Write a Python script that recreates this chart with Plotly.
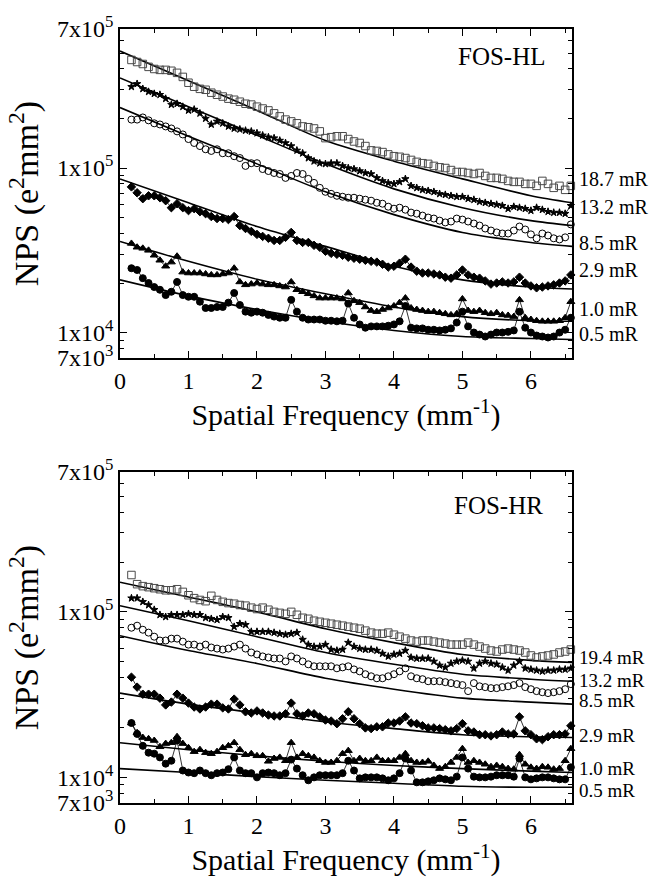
import plotly.graph_objects as go

# ---------------- data ----------------
freq = [0.167, 0.250, 0.333, 0.417, 0.500, 0.583, 0.667, 0.750, 0.833, 0.917,
        1.000, 1.083, 1.167, 1.250, 1.333, 1.417, 1.500, 1.583, 1.667, 1.750, 1.833, 1.917,
        2.000, 2.083, 2.167, 2.250, 2.333, 2.417, 2.500, 2.583, 2.667, 2.750, 2.833, 2.917,
        3.000, 3.083, 3.167, 3.250, 3.333, 3.417, 3.500, 3.583, 3.667, 3.750, 3.833, 3.917,
        4.000, 4.083, 4.167, 4.250, 4.333, 4.417, 4.500, 4.583, 4.667, 4.750, 4.833, 4.917,
        5.000, 5.083, 5.167, 5.250, 5.333, 5.417, 5.500, 5.583, 5.667, 5.750, 5.833, 5.917,
        6.000, 6.083, 6.167, 6.250, 6.333, 6.417, 6.500, 6.583]

fit_freq = [0, 1, 2, 3, 4, 5, 6, 6.6]

# FOS-HL measured NPS
hl_187 = [4.54e5, 4.41e5, 4.29e5, 4.12e5, 4.00e5, 3.95e5, 3.95e5, 3.90e5, 3.79e5, 3.58e5,
          3.30e5, 3.12e5, 3.03e5, 2.99e5, 2.87e5, 2.79e5, 2.72e5, 2.64e5, 2.60e5, 2.53e5, 2.46e5, 2.43e5,
          2.36e5, 2.30e5, 2.24e5, 2.15e5, 2.06e5, 1.97e5, 1.92e5, 1.87e5, 1.79e5, 1.77e5, 1.74e5, 1.67e5,
          1.52e5, 1.54e5, 1.56e5, 1.56e5, 1.50e5, 1.45e5, 1.42e5, 1.36e5, 1.28e5, 1.27e5, 1.25e5, 1.21e5,
          1.18e5, 1.17e5, 1.15e5, 1.12e5, 1.09e5, 1.07e5, 1.06e5, 1.03e5, 1.01e5, 1.00e5, 9.72e4, 9.46e4,
          9.46e4, 9.33e4, 9.20e4, 9.33e4, 8.95e4, 8.71e4, 8.71e4, 8.59e4, 8.35e4, 8.24e4, 8.24e4, 8.01e4,
          8.01e4, 7.79e4, 8.35e4, 8.01e4, 7.58e4, 7.79e4, 7.37e4, 7.79e4]
hl_132 = [3.12e5, 3.25e5, 3.03e5, 2.91e5, 2.83e5, 2.79e5, 2.64e5, 2.43e5, 2.46e5, 2.36e5,
          2.24e5, 2.27e5, 2.15e5, 2.00e5, 1.84e5, 1.92e5, 1.87e5, 1.79e5, 1.74e5, 1.72e5, 1.69e5, 1.67e5,
          1.63e5, 1.58e5, 1.54e5, 1.52e5, 1.47e5, 1.42e5, 1.36e5, 1.28e5, 1.23e5, 1.15e5, 1.10e5, 1.07e5,
          1.06e5, 1.07e5, 1.07e5, 1.03e5, 1.00e5, 9.86e4, 9.59e4, 9.33e4, 9.20e4, 8.71e4, 8.35e4, 8.12e4,
          8.01e4, 8.24e4, 8.59e4, 7.79e4, 7.58e4, 7.37e4, 7.27e4, 7.17e4, 6.97e4, 6.88e4, 6.78e4, 6.69e4,
          6.69e4, 6.51e4, 6.42e4, 6.24e4, 6.15e4, 6.07e4, 5.99e4, 5.90e4, 5.66e4, 5.82e4, 5.74e4, 5.66e4,
          5.51e4, 5.74e4, 5.58e4, 5.43e4, 5.36e4, 5.36e4, 5.28e4, 5.90e4]
hl_85 = [1.97e5, 1.97e5, 2.03e5, 1.95e5, 1.87e5, 1.84e5, 1.79e5, 1.74e5, 1.67e5, 1.60e5,
         1.50e5, 1.42e5, 1.36e5, 1.30e5, 1.27e5, 1.30e5, 1.23e5, 1.23e5, 1.18e5, 1.15e5, 1.03e5, 1.07e5,
         1.07e5, 9.86e4, 9.59e4, 9.33e4, 9.20e4, 8.71e4, 8.95e4, 9.33e4, 9.20e4, 8.59e4, 8.12e4, 7.58e4,
         7.17e4, 6.97e4, 6.78e4, 6.69e4, 6.60e4, 6.60e4, 6.51e4, 6.42e4, 6.33e4, 6.15e4, 6.07e4, 5.82e4,
         5.66e4, 5.74e4, 5.58e4, 5.36e4, 5.28e4, 5.14e4, 5.00e4, 4.93e4, 4.79e4, 4.67e4, 4.73e4, 4.93e4,
         4.86e4, 4.73e4, 4.60e4, 4.47e4, 4.29e4, 4.17e4, 4.06e4, 4.00e4, 4.00e4, 4.17e4, 4.41e4, 4.23e4,
         3.95e4, 3.74e4, 4.00e4, 3.89e4, 3.74e4, 3.68e4, 3.79e4, 4.54e4]
hl_29 = [7.68e4, 7.07e4, 6.51e4, 6.78e4, 6.78e4, 6.60e4, 6.33e4, 5.74e4, 6.07e4, 5.74e4,
         5.51e4, 5.66e4, 5.43e4, 5.28e4, 5.07e4, 4.93e4, 4.93e4, 4.86e4, 5.07e4, 4.47e4, 4.29e4, 4.12e4,
         3.95e4, 3.84e4, 3.74e4, 3.63e4, 3.63e4, 3.79e4, 4.06e4, 3.63e4, 3.53e4, 3.53e4, 3.39e4, 3.30e4,
         3.12e4, 3.03e4, 2.99e4, 2.95e4, 2.87e4, 2.83e4, 2.79e4, 2.75e4, 2.71e4, 2.68e4, 2.60e4, 2.50e4,
         2.53e4, 2.64e4, 2.79e4, 2.50e4, 2.36e4, 2.30e4, 2.30e4, 2.27e4, 2.24e4, 2.17e4, 2.14e4, 2.24e4,
         2.40e4, 2.24e4, 2.17e4, 2.14e4, 2.06e4, 1.97e4, 2.00e4, 2.03e4, 2.00e4, 2.03e4, 2.17e4, 2.00e4,
         1.92e4, 1.87e4, 1.89e4, 1.92e4, 1.95e4, 2.00e4, 2.06e4, 2.24e4]
hl_10 = [3.48e4, 3.30e4, 3.25e4, 3.16e4, 2.95e4, 2.75e4, 2.53e4, 2.68e4, 2.91e4, 2.33e4,
         2.30e4, 2.30e4, 2.30e4, 2.27e4, 2.24e4, 2.24e4, 2.27e4, 2.30e4, 2.46e4, 2.03e4, 1.95e4, 1.97e4,
         2.00e4, 1.97e4, 1.95e4, 1.95e4, 1.92e4, 1.89e4, 2.03e4, 1.82e4, 1.77e4, 1.72e4, 1.67e4, 1.62e4,
         1.62e4, 1.62e4, 1.62e4, 1.60e4, 1.74e4, 1.56e4, 1.52e4, 1.43e4, 1.36e4, 1.34e4, 1.38e4, 1.41e4,
         1.45e4, 1.52e4, 1.62e4, 1.41e4, 1.38e4, 1.36e4, 1.34e4, 1.34e4, 1.32e4, 1.30e4, 1.28e4, 1.30e4,
         1.60e4, 1.36e4, 1.34e4, 1.36e4, 1.32e4, 1.30e4, 1.32e4, 1.28e4, 1.27e4, 1.25e4, 1.58e4, 1.23e4,
         1.20e4, 1.18e4, 1.17e4, 1.17e4, 1.17e4, 1.18e4, 1.23e4, 1.54e4]
hl_05 = [2.46e4, 2.40e4, 2.14e4, 2.00e4, 1.89e4, 1.82e4, 1.69e4, 1.77e4, 2.03e4, 1.69e4,
         1.65e4, 1.65e4, 1.54e4, 1.41e4, 1.41e4, 1.43e4, 1.43e4, 1.52e4, 1.74e4, 1.47e4, 1.34e4, 1.32e4,
         1.34e4, 1.32e4, 1.28e4, 1.25e4, 1.23e4, 1.23e4, 1.58e4, 1.34e4, 1.23e4, 1.20e4, 1.20e4, 1.20e4,
         1.18e4, 1.18e4, 1.17e4, 1.18e4, 1.50e4, 1.23e4, 1.12e4, 1.07e4, 1.09e4, 1.09e4, 1.09e4, 1.10e4,
         1.12e4, 1.17e4, 1.45e4, 1.07e4, 1.06e4, 1.06e4, 1.04e4, 1.04e4, 1.03e4, 1.04e4, 1.06e4, 1.15e4,
         1.34e4, 1.09e4, 1.00e4, 9.72e3, 9.46e3, 9.72e3, 1.00e4, 1.00e4, 1.01e4, 1.03e4, 1.34e4, 1.07e4,
         1.00e4, 9.59e3, 9.46e3, 9.33e3, 9.46e3, 1.00e4, 1.04e4, 1.23e4]

# FOS-HL model fits
hl_fit_187 = [5.14e5, 3.39e5, 2.24e5, 1.47e5, 1.10e5, 8.59e4, 6.78e4, 6.15e4]
hl_fit_132 = [3.53e5, 2.36e5, 1.58e5, 1.06e5, 7.47e4, 5.74e4, 4.79e4, 4.47e4]
hl_fit_85 = [2.33e5, 1.56e5, 1.06e5, 7.17e4, 5.21e4, 4.06e4, 3.53e4, 3.34e4]
hl_fit_29 = [8.59e4, 6.15e4, 4.41e4, 3.34e4, 2.53e4, 2.09e4, 1.89e4, 1.84e4]
hl_fit_10 = [3.58e4, 2.71e4, 2.11e4, 1.72e4, 1.43e4, 1.25e4, 1.18e4, 1.17e4]
hl_fit_05 = [2.09e4, 1.67e4, 1.38e4, 1.17e4, 1.03e4, 9.46e3, 9.20e3, 9.07e3]

# FOS-HR measured NPS
hr_194 = [1.67e5, 1.47e5, 1.43e5, 1.41e5, 1.39e5, 1.37e5, 1.35e5, 1.35e5, 1.37e5, 1.32e5,
          1.26e5, 1.21e5, 1.18e5, 1.16e5, 1.25e5, 1.18e5, 1.15e5, 1.13e5, 1.12e5, 1.10e5, 1.09e5, 1.06e5,
          1.04e5, 1.06e5, 1.03e5, 1.00e5, 9.86e4, 9.73e4, 1.00e5, 9.60e4, 9.21e4, 9.08e4, 8.84e4, 8.71e4,
          8.59e4, 8.48e4, 8.36e4, 8.25e4, 8.13e4, 8.02e4, 7.91e4, 7.70e4, 7.49e4, 7.38e4, 7.38e4, 7.49e4,
          7.28e4, 7.08e4, 6.89e4, 6.71e4, 6.61e4, 6.71e4, 6.71e4, 6.61e4, 6.52e4, 6.43e4, 6.34e4, 6.34e4,
          6.34e4, 6.52e4, 6.34e4, 6.17e4, 6.00e4, 5.84e4, 5.76e4, 5.92e4, 6.00e4, 5.92e4, 5.84e4, 5.68e4,
          5.45e4, 5.30e4, 5.38e4, 5.45e4, 5.53e4, 5.68e4, 5.76e4, 5.92e4]
hr_132 = [1.21e5, 1.21e5, 1.15e5, 1.10e5, 1.03e5, 9.60e4, 9.33e4, 9.60e4, 9.60e4, 9.60e4,
          9.73e4, 9.60e4, 9.60e4, 9.21e4, 9.08e4, 8.96e4, 9.33e4, 9.21e4, 8.13e4, 8.48e4, 8.36e4, 7.59e4,
          7.59e4, 7.59e4, 7.59e4, 7.49e4, 7.38e4, 7.28e4, 7.38e4, 7.49e4, 6.80e4, 6.34e4, 6.17e4, 6.17e4,
          6.34e4, 5.92e4, 5.84e4, 5.92e4, 6.52e4, 6.17e4, 6.00e4, 5.92e4, 5.92e4, 5.84e4, 5.60e4, 5.38e4,
          5.53e4, 5.60e4, 5.84e4, 5.30e4, 5.23e4, 5.23e4, 5.23e4, 5.02e4, 4.75e4, 4.62e4, 4.88e4, 5.02e4,
          5.09e4, 5.02e4, 4.56e4, 4.88e4, 5.02e4, 4.88e4, 4.82e4, 4.62e4, 4.43e4, 4.75e4, 5.02e4, 4.56e4,
          4.49e4, 4.43e4, 4.37e4, 4.43e4, 4.43e4, 4.49e4, 4.49e4, 4.56e4]
hr_85 = [8.02e4, 8.25e4, 7.80e4, 7.49e4, 7.08e4, 6.71e4, 6.71e4, 6.89e4, 6.89e4, 6.61e4,
         6.34e4, 6.34e4, 6.17e4, 6.34e4, 6.09e4, 6.00e4, 5.92e4, 6.00e4, 6.17e4, 6.34e4, 6.00e4, 5.68e4,
         5.53e4, 5.38e4, 5.30e4, 5.23e4, 5.23e4, 5.02e4, 5.38e4, 5.23e4, 5.02e4, 4.82e4, 4.69e4, 4.69e4,
         4.69e4, 4.69e4, 4.56e4, 4.62e4, 4.69e4, 4.49e4, 4.37e4, 4.20e4, 4.08e4, 3.97e4, 3.97e4, 4.08e4,
         4.20e4, 4.37e4, 4.56e4, 4.08e4, 3.97e4, 3.92e4, 3.81e4, 3.81e4, 3.81e4, 3.76e4, 3.71e4, 3.66e4,
         3.61e4, 3.32e4, 3.71e4, 3.55e4, 3.51e4, 3.46e4, 3.46e4, 3.51e4, 3.55e4, 3.61e4, 3.71e4, 3.51e4,
         3.41e4, 3.32e4, 3.27e4, 3.23e4, 3.27e4, 3.32e4, 3.41e4, 3.66e4]
hr_29 = [4.03e4, 3.51e4, 3.18e4, 3.18e4, 3.18e4, 3.01e4, 2.74e4, 2.85e4, 3.18e4, 3.01e4,
         2.81e4, 2.66e4, 2.59e4, 2.66e4, 2.77e4, 2.77e4, 2.63e4, 2.59e4, 2.97e4, 2.74e4, 2.49e4, 2.45e4,
         2.52e4, 2.45e4, 2.38e4, 2.35e4, 2.35e4, 2.42e4, 2.81e4, 2.42e4, 2.35e4, 2.45e4, 2.42e4, 2.32e4,
         2.22e4, 2.19e4, 2.11e4, 2.26e4, 2.49e4, 2.26e4, 2.11e4, 1.99e4, 1.97e4, 2.02e4, 2.02e4, 2.13e4,
         2.13e4, 2.19e4, 2.32e4, 2.13e4, 2.11e4, 2.05e4, 1.99e4, 1.99e4, 1.97e4, 1.94e4, 1.91e4, 1.97e4,
         2.11e4, 1.91e4, 1.88e4, 1.81e4, 1.81e4, 1.78e4, 1.81e4, 1.88e4, 1.83e4, 1.83e4, 2.32e4, 1.91e4,
         1.81e4, 1.71e4, 1.69e4, 1.76e4, 1.81e4, 1.81e4, 1.83e4, 2.05e4]
hr_10 = [2.13e4, 1.86e4, 1.74e4, 1.71e4, 1.67e4, 1.53e4, 1.60e4, 1.62e4, 1.76e4, 1.60e4,
         1.51e4, 1.43e4, 1.47e4, 1.41e4, 1.39e4, 1.43e4, 1.51e4, 1.55e4, 1.62e4, 1.47e4, 1.37e4, 1.39e4,
         1.35e4, 1.35e4, 1.25e4, 1.30e4, 1.32e4, 1.26e4, 1.62e4, 1.32e4, 1.39e4, 1.35e4, 1.32e4, 1.26e4,
         1.23e4, 1.23e4, 1.26e4, 1.39e4, 1.45e4, 1.26e4, 1.30e4, 1.26e4, 1.26e4, 1.32e4, 1.26e4, 1.26e4,
         1.26e4, 1.32e4, 1.39e4, 1.26e4, 1.23e4, 1.23e4, 1.25e4, 1.18e4, 1.13e4, 1.16e4, 1.23e4, 1.32e4,
         1.49e4, 1.23e4, 1.26e4, 1.23e4, 1.20e4, 1.16e4, 1.18e4, 1.16e4, 1.13e4, 1.12e4, 1.37e4, 1.20e4,
         1.15e4, 1.13e4, 1.16e4, 1.15e4, 1.12e4, 1.13e4, 1.26e4, 1.49e4]
hr_05 = [2.13e4, 1.83e4, 1.55e4, 1.41e4, 1.39e4, 1.32e4, 1.21e4, 1.26e4, 1.67e4, 1.10e4,
         1.07e4, 1.06e4, 1.10e4, 1.06e4, 1.03e4, 1.06e4, 1.07e4, 1.12e4, 1.32e4, 1.10e4, 1.06e4, 1.06e4,
         1.00e4, 1.06e4, 1.07e4, 1.06e4, 1.03e4, 1.06e4, 1.28e4, 1.13e4, 1.03e4, 9.60e3, 1.00e4, 1.03e4,
         1.03e4, 1.03e4, 1.03e4, 1.06e4, 1.26e4, 1.10e4, 9.86e3, 1.00e4, 1.00e4, 1.00e4, 9.86e3, 9.60e3,
         9.86e3, 1.06e4, 1.30e4, 1.10e4, 9.33e3, 9.33e3, 9.46e3, 9.60e3, 9.86e3, 9.73e3, 9.60e3, 1.01e4,
         1.32e4, 1.13e4, 1.01e4, 1.00e4, 1.00e4, 1.01e4, 1.03e4, 1.03e4, 1.03e4, 1.01e4, 1.30e4, 1.00e4,
         9.73e3, 9.86e3, 1.00e4, 1.00e4, 9.86e3, 9.73e3, 9.73e3, 1.15e4]

# FOS-HR model fits
hr_fit_194 = [1.51e5, 1.23e5, 1.00e5, 7.91e4, 6.52e4, 5.53e4, 5.09e4, 4.95e4]
hr_fit_132 = [1.09e5, 8.84e4, 7.08e4, 5.68e4, 4.82e4, 4.20e4, 3.92e4, 3.81e4]
hr_fit_85 = [7.18e4, 5.84e4, 4.88e4, 3.97e4, 3.41e4, 3.01e4, 2.85e4, 2.77e4]
hr_fit_29 = [3.23e4, 2.77e4, 2.45e4, 2.16e4, 1.97e4, 1.81e4, 1.76e4, 1.74e4]
hr_fit_10 = [1.62e4, 1.47e4, 1.35e4, 1.25e4, 1.18e4, 1.13e4, 1.09e4, 1.07e4]
hr_fit_05 = [1.13e4, 1.07e4, 1.01e4, 9.60e3, 9.21e3, 8.83e3, 8.71e3, 8.71e3]

hl_doses = ["18.7 mR", "13.2 mR", "8.5 mR", "2.9 mR", "1.0 mR", "0.5 mR"]
hr_doses = ["19.4 mR", "13.2 mR", "8.5 mR", "2.9 mR", "1.0 mR", "0.5 mR"]
panel_names = ["FOS-HL", "FOS-HR"]

ytick_vals = [7e3, 1e4, 1e5, 7e5]
ytick_text = ["7x10<sup>3</sup>", "1x10<sup>4</sup>", "1x10<sup>5</sup>", "7x10<sup>5</sup>"]
y_minor = [8e3, 9e3, 2e4, 3e4, 4e4, 5e4, 6e4, 7e4, 8e4, 9e4, 2e5, 3e5, 4e5, 5e5, 6e5]

# ---------------- styles ----------------
FONT = "Liberation Serif"
styles = [
    dict(symbol="square-open", size=7.5, color="#4a4a4a", line=False),
    dict(symbol="star", size=5.5, color="black", line=True),
    dict(symbol="circle-open", size=7, color="black", line=False),
    dict(symbol="diamond", size=6.5, color="black", line=True),
    dict(symbol="triangle-up", size=7, color="black", line=True),
    dict(symbol="circle", size=7, color="black", line=True),
]

panels = [
    dict(xa="x", ya="y",
         series=[hl_187, hl_132, hl_85, hl_29, hl_10, hl_05],
         fits=[hl_fit_187, hl_fit_132, hl_fit_85, hl_fit_29, hl_fit_10, hl_fit_05]),
    dict(xa="x2", ya="y2",
         series=[hr_194, hr_132, hr_85, hr_29, hr_10, hr_05],
         fits=[hr_fit_194, hr_fit_132, hr_fit_85, hr_fit_29, hr_fit_10, hr_fit_05]),
]

fig = go.Figure()
for p in panels:
    for vals, fit, st in zip(p["series"], p["fits"], styles):
        fig.add_trace(go.Scatter(
            x=fit_freq, y=fit, xaxis=p["xa"], yaxis=p["ya"],
            mode="lines", line=dict(color="black", width=1.6, shape="spline", smoothing=0.8),
            hoverinfo="skip", showlegend=False))
        fig.add_trace(go.Scatter(
            x=freq, y=vals, xaxis=p["xa"], yaxis=p["ya"],
            mode="lines+markers" if st["line"] else "markers",
            line=dict(color="black", width=0.8),
            marker=dict(symbol=st["symbol"], size=st["size"], color=st["color"],
                        line=dict(color=st["color"], width=1)),
            cliponaxis=False, showlegend=False))

# ---------------- layout ----------------
L, R, T, B = 120, 78, 22, 75
H, W = 878, 650
ph = H - T - B
top_dom = [(803 - 354) / ph, 1.0]
bot_dom = [0.0, (803 - 469) / ph]

def xaxis_cfg(anchor):
    return dict(
        anchor=anchor, domain=[0, 1], range=[0, 6.6],
        tickmode="linear", tick0=0, dtick=1,
        ticks="inside", ticklen=7, tickwidth=1.2, tickcolor="black",
        minor=dict(tick0=0, dtick=0.5, ticks="inside", ticklen=4, tickwidth=1.2, tickcolor="black"),
        showline=True, linecolor="black", linewidth=1.5, mirror="allticks",
        showgrid=False, zeroline=False,
        tickfont=dict(family=FONT, size=24, color="black"),
        title=dict(text="Spatial Frequency (mm<sup>-1</sup>)",
                   font=dict(family=FONT, size=30, color="black"), standoff=6),
    )

def yaxis_cfg(anchor, dom):
    return dict(
        anchor=anchor, domain=dom, type="log",
        range=[3.8451, 5.8451],
        tickmode="array", tickvals=ytick_vals, ticktext=ytick_text,
        ticks="inside", ticklen=7, tickwidth=1.2, tickcolor="black",
        minor=dict(tickvals=y_minor, ticks="inside", ticklen=4, tickwidth=1.2, tickcolor="black"),
        showline=True, linecolor="black", linewidth=1.5, mirror="allticks",
        showgrid=False, zeroline=False,
        tickfont=dict(family=FONT, size=24, color="black"),
        title=dict(text="NPS (e<sup>2</sup>mm<sup>2</sup>)",
                   font=dict(family=FONT, size=34, color="black"), standoff=8),
    )

annotations = []
label_y_top = [173, 202, 238, 265, 305, 330]
label_y_bot = [656, 679, 700, 735, 768, 790]
lab_x = (577 - L) / (W - L - R)
for txt, ypx in zip(hl_doses, label_y_top):
    annotations.append(dict(text=txt, xref="paper", yref="paper", x=lab_x,
                            y=(803 - ypx) / ph, xanchor="left", yanchor="middle", showarrow=False,
                            font=dict(family=FONT, size=20, color="black")))
for txt, ypx in zip(hr_doses, label_y_bot):
    annotations.append(dict(text=txt, xref="paper", yref="paper", x=lab_x,
                            y=(803 - ypx) / ph, xanchor="left", yanchor="middle", showarrow=False,
                            font=dict(family=FONT, size=19, color="black")))
for name, ypx, xpx in zip(panel_names, [50, 503], [456, 452]):
    annotations.append(dict(text=name, xref="paper", yref="paper", x=(xpx - L) / (W - L - R),
                            y=(803 - ypx) / ph, xanchor="left", yanchor="middle", showarrow=False,
                            font=dict(family=FONT, size=25, color="black")))

fig.update_layout(
    width=W, height=H,
    margin=dict(l=L, r=R, t=T, b=B),
    paper_bgcolor="white", plot_bgcolor="white",
    showlegend=False,
    font=dict(family=FONT, color="black"),
    xaxis=xaxis_cfg("y"), yaxis=yaxis_cfg("x", top_dom),
    xaxis2=xaxis_cfg("y2"), yaxis2=yaxis_cfg("x2", bot_dom),
    annotations=annotations,
)

fig.write_html(
    "out.html",
    config={"displayModeBar": False},
    post_script="document.body.style.margin='0';document.body.style.padding='0';"
                "document.documentElement.style.overflow='hidden';",
)
